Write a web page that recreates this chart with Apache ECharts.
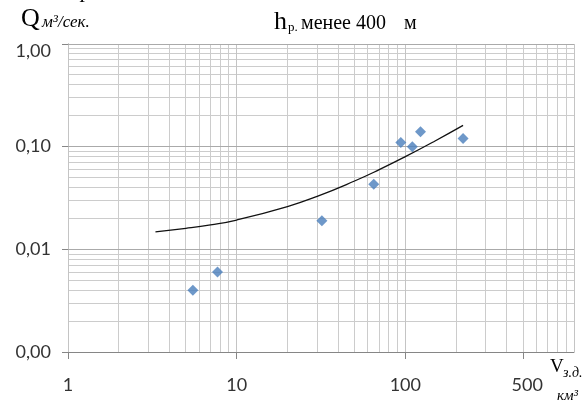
<!DOCTYPE html>
<html>
<head>
<meta charset="utf-8">
<script src="https://cdn.jsdelivr.net/npm/echarts@6/dist/echarts.min.js"></script>
<style>
  html, body { margin: 0; padding: 0; background: #fff; }
  #chart { width: 588px; height: 406px; }
</style>
</head>
<body>
<div id="chart"></div>
<script>
// Observed discharge Q (m³/s) against volume V (km³), log–log scales
const volume = [5.5, 7.7, 32, 65, 94, 110, 123, 220];
const discharge = [0.004, 0.006, 0.019, 0.043, 0.11, 0.10, 0.14, 0.12];

// Trend curve read along its length
const trendVolume = [3.3, 5, 7, 10, 20, 30, 50, 70, 100, 150, 220];
const trendDischarge = [0.0148, 0.0160, 0.0173, 0.0193, 0.0261, 0.0328, 0.0463, 0.0597, 0.0799, 0.1136, 0.161];

// Axis ranges and tick labels
const xMin = 1, xMax = 1000;
const yMin = 0.001, yMax = 1;
const xTickValues = [1, 10, 100, 500];
const xTickLabels = ['1', '10', '100', '500'];

// Grid lines: decades and the 2..9 subdivisions of each decade
const xMajorLines = [1, 10, 100, 1000];
const xMinorLines = [2, 3, 4, 5, 6, 7, 8, 9, 20, 30, 40, 50, 60, 70, 80, 90, 200, 300, 400, 500, 600, 700, 800, 900];
const yMajorLines = [0.01, 0.1, 1];
const yMinorLines = [0.002, 0.003, 0.004, 0.005, 0.006, 0.007, 0.008, 0.009,
                     0.02, 0.03, 0.04, 0.05, 0.06, 0.07, 0.08, 0.09,
                     0.2, 0.3, 0.4, 0.5, 0.6, 0.7, 0.8, 0.9];

const chart = echarts.init(document.getElementById('chart'), null, { renderer: 'canvas' });

const LABEL_FONT = 'Lato';
const SERIF = '"Liberation Serif", "Times New Roman", serif';

function crisp(v) { return Math.round(v - 0.5) + 0.5; }

function verticalLines(values, color) {
  return {
    type: 'custom', z: 1, silent: true,
    data: values.map(v => [v, yMin]),
    renderItem: (params, api) => {
      const a = api.coord([api.value(0), yMin]);
      const b = api.coord([api.value(0), yMax]);
      const x = crisp(a[0]);
      return { type: 'line', shape: { x1: x, y1: a[1], x2: x, y2: b[1] },
               style: { stroke: color, lineWidth: 1 } };
    }
  };
}

function horizontalLines(values, color) {
  return {
    type: 'custom', z: 1, silent: true,
    data: values.map(v => [xMin, v]),
    renderItem: (params, api) => {
      const a = api.coord([xMin, api.value(1)]);
      const b = api.coord([xMax, api.value(1)]);
      const y = crisp(a[1]);
      return { type: 'line', shape: { x1: a[0], y1: y, x2: b[0], y2: y },
               style: { stroke: color, lineWidth: 1 } };
    }
  };
}

const option = {
  animation: false,
  backgroundColor: '#ffffff',
  grid: { left: 68, right: 14, top: 44, bottom: 54, containLabel: false },
  xAxis: {
    type: 'log', logBase: 10, min: xMin, max: xMax,
    axisLine: { show: true, lineStyle: { color: '#868686', width: 1 } },
    axisTick: { show: false },
    axisLabel: { show: false },
    splitLine: { show: false }
  },
  yAxis: {
    type: 'log', logBase: 10, min: yMin, max: yMax,
    axisLine: { show: true, lineStyle: { color: '#868686', width: 1 } },
    axisTick: { show: true, inside: false, length: 6, lineStyle: { color: '#868686' } },
    axisLabel: {
      margin: 17,
      color: '#333333',
      fontFamily: LABEL_FONT,
      fontSize: 18,
      formatter: v => {
        const s = Number(v).toFixed(2).replace('.', ',');
        return Math.abs(v - yMax) < 1e-9 ? '{top|' + s + '}' : s;
      },
      rich: { top: { fontFamily: LABEL_FONT, fontSize: 18, color: '#333333', padding: [14, 0, 0, 0] } }
    },
    splitLine: { show: false }
  },
  series: [
    verticalLines(xMinorLines, '#cccccc'),
    horizontalLines(yMinorLines, '#cccccc'),
    verticalLines(xMajorLines, '#c4c4c4'),
    horizontalLines(yMajorLines, '#aaaaaa'),
    {
      type: 'line', z: 3, smooth: true, symbol: 'none',
      data: trendVolume.map((v, i) => [v, trendDischarge[i]]),
      lineStyle: { color: '#111111', width: 1.3 }
    },
    {
      type: 'scatter', z: 4, symbol: 'diamond', symbolSize: 11,
      data: volume.map((v, i) => [v, discharge[i]]),
      itemStyle: { color: '#4a7ebb' }
    }
  ]
};

chart.setOption(option);

// Tick marks and labels under the horizontal axis, placed through the axis scale
const graphics = [];
xTickValues.forEach((v, i) => {
  const p = chart.convertToPixel({ gridIndex: 0 }, [v, yMin]);
  const x = crisp(p[0]);
  graphics.push({
    type: 'line', silent: true,
    shape: { x1: x, y1: p[1], x2: x, y2: p[1] + 7 },
    style: { stroke: '#868686', lineWidth: 1 }
  });
  graphics.push({
    type: 'text', silent: true, x: p[0] + (v === 500 ? 4 : 0), y: p[1] + 33,
    style: { text: xTickLabels[i], font: '18px ' + LABEL_FONT, fill: '#333333',
             align: 'center', verticalAlign: 'middle' }
  });
});

// Axis titles and heading
function txt(text, x, y, font) {
  return { type: 'text', silent: true, x: x, y: y,
           style: { text: text, font: font, fill: '#000', align: 'left', verticalAlign: 'middle' } };
}
graphics.push(
  txt('Q', 21, 19.5, '26px ' + SERIF),
  txt('м³/сек.', 42, 23, 'italic 17px ' + SERIF),
  txt('h', 274, 22.3, '26px ' + SERIF),
  txt('р.', 288, 27.4, '13px ' + SERIF),
  txt('менее 400', 301, 24.0, '20px ' + SERIF),
  txt('м', 404, 24.0, '20px ' + SERIF),
  txt('V', 550, 366.9, '19px ' + SERIF),
  txt('з.д.', 563, 373.5, 'italic 14px ' + SERIF),
  txt('км³', 557, 396.5, 'italic 15px ' + SERIF),
  // glyph tails of the line of text above the chart
  { type: 'text', silent: true, x: 81, y: 2,
    style: { text: 'р', font: 'italic 22px ' + SERIF, fill: '#000', align: 'left', verticalAlign: 'bottom' } },
  { type: 'text', silent: true, x: 339, y: -1,
    style: { text: 'р', font: 'italic 22px ' + SERIF, fill: '#000', align: 'left', verticalAlign: 'bottom' } }
);

chart.setOption({ graphic: graphics });
</script>
</body>
</html>
